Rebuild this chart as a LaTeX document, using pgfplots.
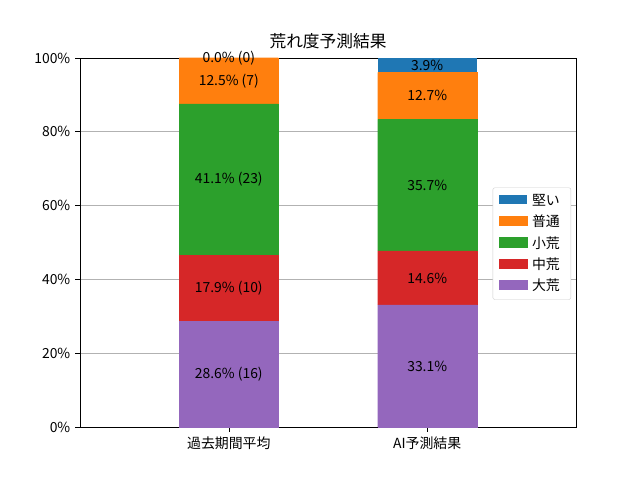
\documentclass[border=0pt]{standalone}
\usepackage{fontspec}
\setmainfont{Noto Sans CJK JP}
\usepackage{pgfplots}
\pgfplotsset{compat=1.18}
\definecolor{cblue}{HTML}{1F77B4}
\definecolor{corange}{HTML}{FF7F0E}
\definecolor{cgreen}{HTML}{2CA02C}
\definecolor{cred}{HTML}{D62728}
\definecolor{cpurple}{HTML}{9467BD}
\begin{document}
\begin{tikzpicture}
\fontsize{13.9}{16}\selectfont
\path[use as bounding box] (0pt,0pt) rectangle (640pt,480pt);
\begin{axis}[
  at={(80pt,53pt)}, anchor=south west,
  scale only axis, width=496pt, height=369pt,
  ybar stacked, bar width=0.5,
  xmin=-0.75, xmax=1.75, ymin=0, ymax=100,
  xtick={0,1}, xticklabels={過去期間平均,AI予測結果},
  ytick={0,20,40,60,80,100},
  yticklabels={0\%,20\%,40\%,60\%,80\%,100\%},
  ymajorgrids, grid style={gray!60, line width=0.6pt},
  tick align=outside, major tick length=4.9pt,
  tick style={black, line width=0.6pt},
  axis line style={line width=0.6pt},
  tick label style={font=\fontsize{13.9}{16}\selectfont},
  ytick pos=left, xtick pos=bottom,
  title={荒れ度予測結果}, title style={font=\fontsize{16.7}{19}\selectfont, yshift=-2pt},
  legend style={at={(rel axis cs:0.99,0.497)}, anchor=east, font=\fontsize{13.9}{16}\selectfont,
    draw=gray!40, rounded corners=2pt, fill=white, row sep=2.6pt, inner xsep=6pt, inner ysep=4pt,
    nodes={inner sep=2.5pt, inner xsep=5pt}},
  legend cell align=left, reverse legend,
  legend image code/.code={\fill[#1, sharp corners] (0pt,-3.5pt) rectangle (28pt,6pt);},
]
\addplot[fill=cpurple, draw=cpurple, line width=0.2pt] coordinates {(0,28.6) (1,33.1)};
\addlegendentry{大荒}
\addplot[fill=cred, draw=cred, line width=0.2pt] coordinates {(0,17.9) (1,14.6)};
\addlegendentry{中荒}
\addplot[fill=cgreen, draw=cgreen, line width=0.2pt] coordinates {(0,41.1) (1,35.7)};
\addlegendentry{小荒}
\addplot[fill=corange, draw=corange, line width=0.2pt] coordinates {(0,12.5) (1,12.7)};
\addlegendentry{普通}
\addplot[fill=cblue, draw=none] coordinates {(0,0.0) (1,3.9)};
\addlegendentry{堅い}
\end{axis}
\begin{axis}[
  at={(80pt,53pt)}, anchor=south west,
  scale only axis, width=496pt, height=369pt,
  xmin=-0.75, xmax=1.75, ymin=0, ymax=100,
  hide axis, clip=false,
]
\addplot[only marks, mark=none, nodes near coords, point meta=explicit symbolic,
  nodes near coords align={center},
  every node near coord/.append style={font=\fontsize{13.9}{16}\selectfont, inner sep=0pt}]
  coordinates {
  (0,14.3) [28.6\% (16)]
  (0,37.55) [17.9\% (10)]
  (0,67.05) [41.1\% (23)]
  (0,93.75) [12.5\% (7)]
  (0,100) [0.0\% (0)]
  (1,16.55) [33.1\%]
  (1,40.4) [14.6\%]
  (1,65.55) [35.7\%]
  (1,89.75) [12.7\%]
  (1,98.05) [3.9\%]
  };
\end{axis}
\end{tikzpicture}
\end{document}
